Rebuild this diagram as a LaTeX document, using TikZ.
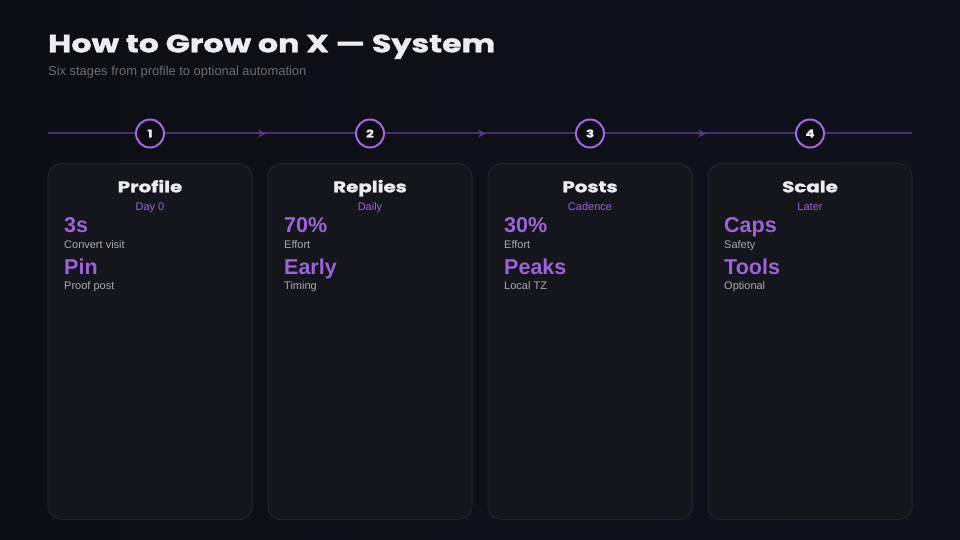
\documentclass[tikz,border=0pt]{standalone}
\usepackage{fontspec}
\setmainfont{Liberation Sans}
\newfontfamily\widefont[FakeStretch=1.28,FakeBold=1.6]{Poppins}
\usetikzlibrary{arrows.meta}
\definecolor{bgA}{HTML}{0D0E13}
\definecolor{bgB}{HTML}{0F121B}
\definecolor{cardfill}{HTML}{15161B}
\definecolor{cardline}{HTML}{24252C}
\definecolor{tline}{HTML}{4A2B78}
\definecolor{tarrow}{HTML}{5A3390}
\definecolor{ring}{HTML}{A466E4}
\definecolor{accent}{HTML}{9D62DC}
\definecolor{titlec}{HTML}{ECECF1}
\definecolor{subc}{HTML}{6C6E78}
\definecolor{labelc}{HTML}{A9AAB2}
\tikzset{
  card/.style={draw=cardline, line width=1pt, fill=cardfill, rounded corners=13pt},
  ringnode/.style={circle, draw=ring, line width=2pt, fill=bgA, minimum size=28pt, inner sep=0pt,
    text=titlec, font=\widefont\bfseries\fontsize{10.5}{11}\selectfont},
  cardtitle/.style={anchor=base, text=titlec, inner sep=0pt, font=\widefont\bfseries\fontsize{15.5}{16}\selectfont},
  cardsub/.style={anchor=base, text=accent, inner sep=0pt, font=\fontsize{11}{12}\selectfont},
  metric/.style={anchor=base west, text=accent, inner sep=0pt, font=\bfseries\fontsize{21.5}{22}\selectfont},
  mlabel/.style={anchor=base west, text=labelc, inner sep=0pt, font=\fontsize{11}{12}\selectfont},
  flow/.style={draw=tline, line width=2pt},
  flowarrow/.style={draw=tarrow, line width=1.5pt, -{Stealth[length=8pt,width=8pt]}}
}
\begin{document}
\begin{tikzpicture}[x=1pt,y=-1pt]
\useasboundingbox (0,0) rectangle (960,540);
\shade[left color=bgA, right color=bgB] (0,0) rectangle (960,540);
% title
\node[anchor=base west, inner sep=0pt, text=titlec, font=\widefont\bfseries\fontsize{24.8}{26}\selectfont] (title) at (48,52.3) {How to Grow on X — System};
\node[anchor=base west, inner sep=0pt, text=subc, font=\fontsize{12.9}{14}\selectfont] (subtitle) at (48,75.7) {Six stages from profile to optional automation};
% timeline
\coordinate (tstart) at (48,133.5);
\coordinate (tend) at (912,133.5);
\coordinate (a1) at (266,133.5);
\coordinate (a2) at (486,133.5);
\coordinate (a3) at (706,133.5);
\draw[flow] (tstart) -- (tend);
\draw[flowarrow] (a1) ++(-9,0) -- (a1);
\draw[flowarrow] (a2) ++(-9,0) -- (a2);
\draw[flowarrow] (a3) ++(-9,0) -- (a3);
\node[ringnode] (n1) at (150,133.5) {1};
\node[ringnode] (n2) at (370,133.5) {2};
\node[ringnode] (n3) at (590,133.5) {3};
\node[ringnode] (n4) at (810,133.5) {4};
% cards
\foreach \x/\nm in {48/c1,268/c2,488/c3,708/c4}{
  \draw[card] (\x,163.5) rectangle ++(204,356);
}
\node[cardtitle] (t1) at (150,192.3) {Profile};
\node[cardtitle] (t2) at (370,192.3) {Replies};
\node[cardtitle] (t3) at (590,192.3) {Posts};
\node[cardtitle] (t4) at (810,192.3) {Scale};
\node[cardsub] (s1) at (150,210.3) {Day 0};
\node[cardsub] (s2) at (370,210.3) {Daily};
\node[cardsub] (s3) at (590,210.3) {Cadence};
\node[cardsub] (s4) at (810,210.3) {Later};
% metrics
\node[metric] (m1a) at (64,232) {3s};
\node[mlabel] (l1a) at (64,248.3) {Convert visit};
\node[metric] (m1b) at (64,274.3) {Pin};
\node[mlabel] (l1b) at (64,289.7) {Proof post};
\node[metric] (m2a) at (284,232) {70\%};
\node[mlabel] (l2a) at (284,248.3) {Effort};
\node[metric] (m2b) at (284,274.3) {Early};
\node[mlabel] (l2b) at (284,289.7) {Timing};
\node[metric] (m3a) at (504,232) {30\%};
\node[mlabel] (l3a) at (504,248.3) {Effort};
\node[metric] (m3b) at (504,274.3) {Peaks};
\node[mlabel] (l3b) at (504,289.7) {Local TZ};
\node[metric] (m4a) at (724,232) {Caps};
\node[mlabel] (l4a) at (724,248.3) {Safety};
\node[metric] (m4b) at (724,274.3) {Tools};
\node[mlabel] (l4b) at (724,289.7) {Optional};
\end{tikzpicture}
\end{document}
